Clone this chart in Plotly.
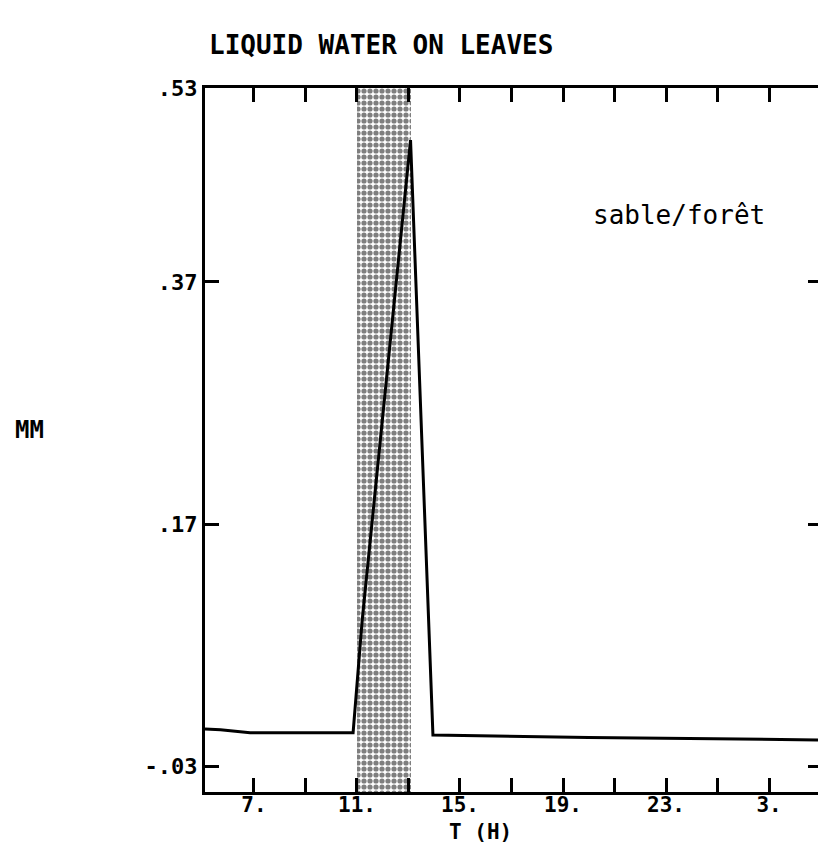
import plotly.graph_objects as go

# ---- data ----
hours = [5.1, 5.7, 6.85, 10.85, 11.2, 13.08, 13.95, 20.0, 28.9]
water_mm = [0.001, 0.0003, -0.002, -0.002, 0.09, 0.487, -0.004, -0.006, -0.008]

shade_start = 11.0
shade_end = 13.1

x_tickvals = [7, 9, 11, 13, 15, 17, 19, 21, 23, 25, 27]
x_ticktext = ["7.", "", "11.", "", "15.", "", "19.", "", "23.", "", "3."]
y_tickvals = [0.53, 0.37, 0.17, -0.03]
y_ticktext = [".53", ".37", ".17", "-.03"]

x_range = [5.1, 28.9]
y_range = [-0.051, 0.53]

MONO = "DejaVu Sans Mono"

fig = go.Figure()

# shaded (dotted) period
fig.add_trace(go.Bar(
    x=[(shade_start + shade_end) / 2],
    y=[y_range[1] - y_range[0]],
    base=[y_range[0]],
    width=[shade_end - shade_start],
    marker=dict(
        color="white",
        line=dict(width=0),
        pattern=dict(shape=".", fgcolor="black", bgcolor="white",
                     size=6, solidity=0.6, fillmode="overlay"),
    ),
    hoverinfo="skip",
    showlegend=False,
))

fig.add_trace(go.Scatter(
    x=hours, y=water_mm, mode="lines",
    line=dict(color="black", width=3),
    showlegend=False,
))

# same series on the right-hand axis (invisible) so its ticks are drawn
fig.add_trace(go.Scatter(
    x=hours, y=water_mm, mode="lines", yaxis="y2",
    line=dict(color="black", width=3), opacity=0,
    hoverinfo="skip", showlegend=False,
))

fig.update_layout(
    width=818, height=859,
    margin=dict(l=205, r=0, t=88, b=67),
    paper_bgcolor="white", plot_bgcolor="white",
    bargap=0,
    font=dict(family=MONO, color="black", size=22, weight="bold"),
    xaxis=dict(
        range=x_range, tickvals=x_tickvals, ticktext=x_ticktext,
        ticks="inside", ticklen=14, tickwidth=3, tickcolor="black",
        showline=True, linewidth=3, linecolor="black", mirror="ticks",
        showgrid=False, zeroline=False, automargin=False,
        ticklabelstandoff=-8,
        tickfont=dict(family=MONO, size=21, color="black", weight="bold"),
    ),
    yaxis=dict(
        range=y_range, tickvals=y_tickvals, ticktext=y_ticktext,
        ticks="inside", ticklen=14, tickwidth=3, tickcolor="black",
        showline=True, linewidth=3, linecolor="black",
        showgrid=False, zeroline=False, automargin=False,
        tickfont=dict(family=MONO, size=22, color="black", weight="bold"),
    ),
    yaxis2=dict(
        overlaying="y", side="right", range=y_range, tickvals=y_tickvals,
        ticks="inside", ticklen=10, tickwidth=3, tickcolor="black",
        showticklabels=False, showline=False, showgrid=False, zeroline=False,
        automargin=False,
    ),
    annotations=[
        dict(text="LIQUID WATER ON LEAVES", xref="paper", yref="paper",
             x=0.003, y=1.061, xanchor="left", yanchor="middle", showarrow=False,
             font=dict(family=MONO, size=26, color="black", weight="bold")),
        dict(text="MM", xref="paper", yref="paper",
             x=-0.2855, y=0.514, xanchor="center", yanchor="middle", showarrow=False,
             font=dict(family=MONO, size=24, color="black", weight="bold")),
        dict(text="T (H)", xref="paper", yref="paper",
             x=0.449, y=-0.057, xanchor="center", yanchor="middle", showarrow=False,
             font=dict(family=MONO, size=21, color="black", weight="bold")),
        dict(text="sable/forêt", xref="x", yref="y",
             x=23.5, y=0.425, xanchor="center", yanchor="middle", showarrow=False,
             font=dict(family=MONO, size=26, color="black", weight="normal")),
    ],
)

fig.write_html("out.html", config={"displayModeBar": False},
               post_script="document.body.style.margin='0';")
